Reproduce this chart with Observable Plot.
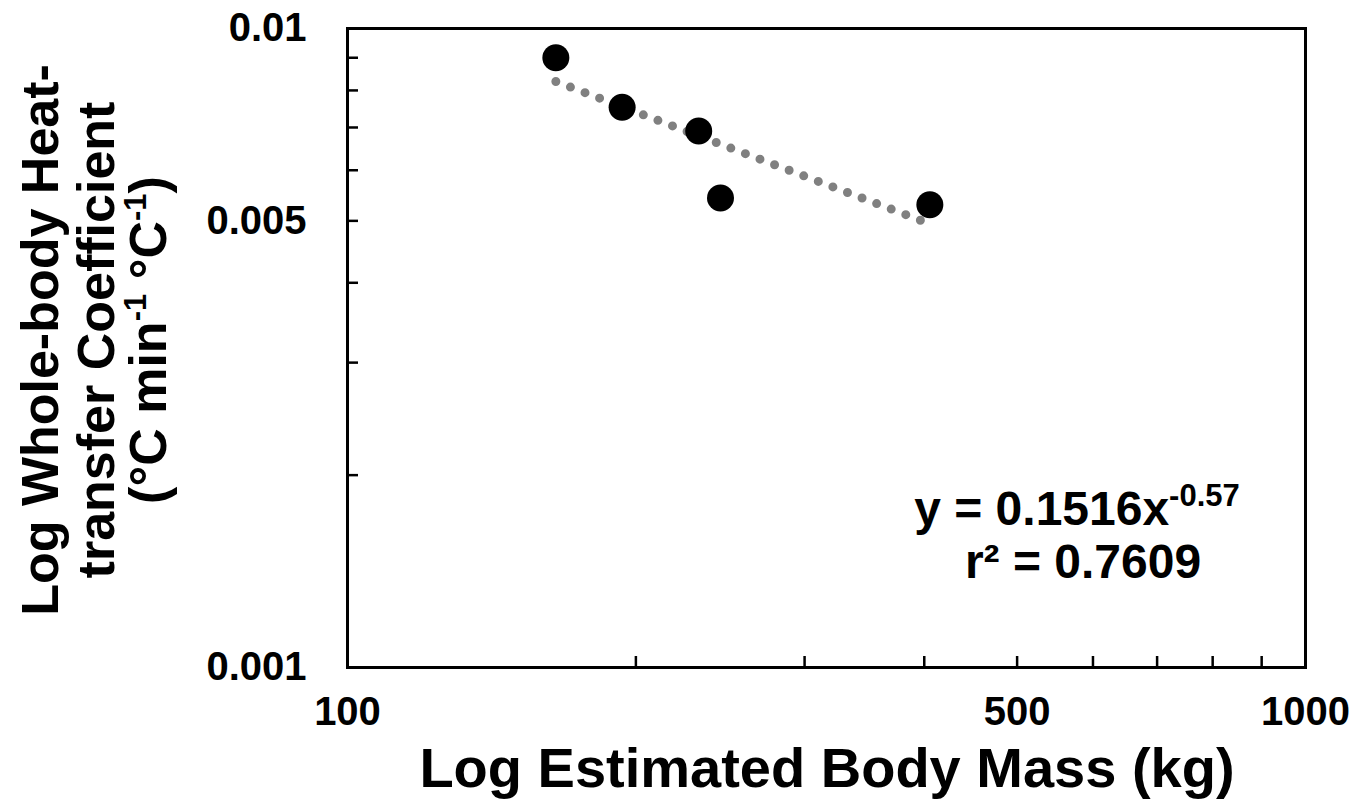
<!DOCTYPE html>
<html>
<head>
<meta charset="utf-8">
<script src="https://cdn.jsdelivr.net/npm/d3@7"></script>
<script src="https://cdn.jsdelivr.net/npm/@observablehq/plot@0.6"></script>
<style>
  html, body { margin: 0; padding: 0; background: #fff; }
  #chart svg { display: block; }
</style>
</head>
<body>
<div id="chart"></div>
<script>
// ---- data ----
const bodyMass = [165, 193.5, 232.6, 245.1, 405.4];          // kg
const heatCoef = [0.0090, 0.00753, 0.00691, 0.00543, 0.00530]; // °C min-1 °C-1

// power-law trend line endpoints (straight in log–log space)
const trendMass = [165, 405];
const trendCoef = [0.00826, 0.00495];

// axis ticks
const xTickLabels = [100, 500, 1000];
const xMinorTicks = [200, 300, 400, 500, 600, 700, 800, 900];
const yTickLabels = [0.001, 0.005, 0.01];
const yMinorTicks = [0.002, 0.003, 0.004, 0.005, 0.006, 0.007, 0.008, 0.009];

const points = bodyMass.map((m, i) => ({mass: m, coef: heatCoef[i]}));
const trend = trendMass.map((m, i) => ({mass: m, coef: trendCoef[i]}));

const font = "'Liberation Sans', Arial, Helvetica, sans-serif";

const chart = Plot.plot({
  width: 1370,
  height: 803,
  marginLeft: 347,
  marginRight: 65,
  marginTop: 28,
  marginBottom: 136,
  style: {fontFamily: font, background: "#fff", color: "#000"},
  x: {type: "log", domain: [100, 1000], label: null},
  y: {type: "log", domain: [0.001, 0.01], label: null},
  marks: [
    Plot.tickX(xMinorTicks, {x: d => d, insetTop: 628, stroke: "#000", strokeWidth: 2.5}),
    Plot.tickY(yMinorTicks, {y: d => d, insetRight: 947, stroke: "#000", strokeWidth: 2.5}),
    Plot.axisX(xTickLabels, {
      tickSize: 0, tickPadding: 29, fontSize: 40, fontWeight: "bold",
      tickFormat: d => String(d), label: null
    }),
    Plot.axisY(yTickLabels, {
      tickSize: 0, tickPadding: 41, fontSize: 40, fontWeight: "bold",
      tickFormat: d => String(d), label: null
    }),
    Plot.line(trend, {
      x: "mass", y: "coef", stroke: "#808080", strokeWidth: 9,
      strokeDasharray: "0 15.6", strokeLinecap: "round"
    }),
    Plot.dot(points, {x: "mass", y: "coef", r: 13.5, fill: "#000"}),
    Plot.frame({stroke: "#000", strokeWidth: 3})
  ]
});

document.getElementById("chart").appendChild(chart);

// ---- text annotations (axis titles, equation) ----
const svg = d3.select(chart);

// x axis title
svg.append("text")
  .attr("x", 827).attr("y", 787)
  .attr("text-anchor", "middle")
  .attr("font-family", font).attr("font-weight", "bold").attr("font-size", 56)
  .attr("fill", "#000")
  .text("Log Estimated Body Mass (kg)");

// y axis title (rotated, three lines)
const yt = svg.append("g")
  .attr("transform", "translate(0,340) rotate(-90)")
  .attr("font-family", font).attr("font-weight", "bold").attr("font-size", 52)
  .attr("fill", "#000").attr("text-anchor", "middle");
yt.append("text").attr("x", 0).attr("y", 58).text("Log Whole-body Heat-");
yt.append("text").attr("x", 0).attr("y", 114).text("transfer Coefficient");
const l3 = yt.append("text").attr("x", 0).attr("y", 166);
l3.append("tspan").text("(°C min");
l3.append("tspan").attr("font-size", 31).attr("dy", -20).text("-1");
l3.append("tspan").attr("dy", 20).text(" °C");
l3.append("tspan").attr("font-size", 31).attr("dy", -20).text("-1");
l3.append("tspan").attr("dy", 20).text(")");

// regression equation
const eq = svg.append("g")
  .attr("font-family", font).attr("font-weight", "bold").attr("font-size", 48)
  .attr("fill", "#000").attr("text-anchor", "middle");
const e1 = eq.append("text").attr("x", 1077).attr("y", 525);
e1.append("tspan").text("y = 0.1516x");
e1.append("tspan").attr("font-size", 31).attr("dy", -19).text("-0.57");
eq.append("text").attr("x", 1083).attr("y", 578).text("r² = 0.7609");
</script>
</body>
</html>
